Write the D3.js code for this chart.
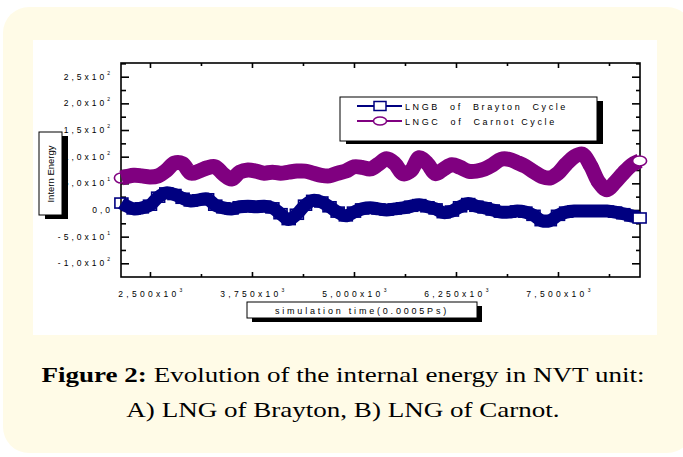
<!DOCTYPE html>
<html lang="en">
<head>
<meta charset="utf-8">
<title>Figure 2 - Internal energy</title>
<script src="https://d3js.org/d3.v7.min.js"></script>
<style>
  body { margin: 0; background: #ffffff; }
  svg text { font-family: "Liberation Sans", Arial, sans-serif; fill: #000; }
</style>
</head>
<body>
<div id="chart"></div>
<script>
// ---- data ----
var timeSteps = [2150, 2300, 2400, 2500, 2600, 2700, 2800, 2900, 3000, 3100,
  3200, 3300, 3400, 3500, 3600, 3700, 3800, 3900, 4000, 4100,
  4200, 4300, 4400, 4500, 4600, 4700, 4800, 4900, 5000, 5100,
  5200, 5300, 5400, 5500, 5600, 5700, 5800, 5900, 6000, 6100,
  6200, 6300, 6400, 6500, 6600, 6700, 6800, 6900, 7000, 7100,
  7200, 7300, 7400, 7500, 7600, 7700, 7800, 7900, 8000, 8100,
  8200, 8300, 8400, 8500];

var braytonValues = [13, 2, 4, 9, 24, 32, 29, 22, 17, 19,
  21, 9, 4, 2, 6, 7, 6, 7, 4, -7,
  -18, -8, 9, 18, 15, 6, -4, -11, -4, 2,
  4, 2, 0, 2, 4, 7, 10, 6, 2, -5,
  -2, 6, 12, 7, 4, 0, -4, -4, -2, -4,
  -10, -20, -20, -10, -4, -2, -2, -2, -2, -2,
  -4, -7, -11, -15];

var carnotValues = [60, 65, 64, 62, 64, 74, 88, 87, 69, 73,
  79, 81, 67, 58, 71, 75, 73, 69, 71, 69,
  71, 73, 73, 69, 65, 64, 69, 73, 81, 80,
  77, 86, 96, 87, 68, 74, 98, 87, 68, 77,
  85, 80, 73, 73, 77, 85, 95, 95, 89, 82,
  72, 63, 60, 69, 86, 100, 105, 83, 52, 38,
  52, 69, 84, 92];

var seriesNames = ["LNGB  of  Brayton  Cycle", "LNGC  of  Carnot Cycle"];

var xTickValues = [2500, 3750, 5000, 6250, 7500];
var xTickLabels = ["2,500x10", "3,750x10", "5,000x10", "6,250x10", "7,500x10"];
var xTickExp = ["3", "3", "3", "3", "3"];

var yTickValues = [250, 200, 150, 100, 50, 0, -50, -100];
var yTickLabels = ["2,5x10", "2,0x10", "1,5x10", "1,0x10", "5,0x10", "0,0", "-5,0x10", "-1,0x10"];
var yTickExp = ["2", "2", "2", "2", "1", "", "1", "2"];

var xTitle = "simulation time(0.0005Ps)";
var yTitle = "Intern Energy";

// ---- sizes ----
var width = 683, height = 457;
var plotLeft = 121, plotRight = 640, plotTop = 63, plotBottom = 277;
var blue = "#000080", purple = "#800080";

var svg = d3.select("#chart").append("svg")
  .attr("width", width)
  .attr("height", height);

// cream card and white panel
svg.append("rect")
  .attr("x", 3).attr("y", 7)
  .attr("width", 690).attr("height", 446)
  .attr("rx", 26).attr("ry", 26)
  .style("fill", "#fffbe7");
svg.append("rect")
  .attr("x", 33).attr("y", 40)
  .attr("width", 624).attr("height", 295)
  .style("fill", "#ffffff");

var x = d3.scaleLinear().domain([2145, 8505]).range([plotLeft, plotRight]);
var y = d3.scaleLinear().domain([-125.7, 275.7]).range([plotBottom, plotTop]);

// ticks (inward on all four sides)
var xMinor = d3.range(1875, 8500, 625).filter(function(d) { return xTickValues.indexOf(d) < 0 && d > 2145; });
var yMinor = d3.range(-125, 276, 25).filter(function(d) { return yTickValues.indexOf(d) < 0 && d > -125; });

svg.append("g").attr("transform", "translate(0," + plotBottom + ")")
  .call(d3.axisTop(x).tickValues(xTickValues).tickSize(5).tickFormat(""));
svg.append("g").attr("transform", "translate(0," + plotBottom + ")")
  .call(d3.axisTop(x).tickValues(xMinor).tickSize(3).tickFormat(""));
svg.append("g").attr("transform", "translate(0," + plotTop + ")")
  .call(d3.axisBottom(x).tickValues(xTickValues).tickSize(5).tickFormat(""));
svg.append("g").attr("transform", "translate(0," + plotTop + ")")
  .call(d3.axisBottom(x).tickValues(xMinor).tickSize(3).tickFormat(""));
svg.append("g").attr("transform", "translate(" + plotLeft + ",0)")
  .call(d3.axisRight(y).tickValues(yTickValues).tickSize(8).tickFormat(""));
svg.append("g").attr("transform", "translate(" + plotLeft + ",0)")
  .call(d3.axisRight(y).tickValues(yMinor).tickSize(5).tickFormat(""));
svg.append("g").attr("transform", "translate(" + plotRight + ",0)")
  .call(d3.axisLeft(y).tickValues(yTickValues).tickSize(8).tickFormat(""));
svg.append("g").attr("transform", "translate(" + plotRight + ",0)")
  .call(d3.axisLeft(y).tickValues(yMinor).tickSize(4).tickFormat(""));
svg.selectAll(".domain").remove();
svg.selectAll(".tick line").style("stroke", "#000").style("stroke-width", 1.6);

// frame
svg.append("rect")
  .attr("x", plotLeft).attr("y", plotTop)
  .attr("width", plotRight - plotLeft).attr("height", plotBottom - plotTop)
  .style("fill", "none").style("stroke", "#000").style("stroke-width", 1.6);

// tick labels
var xl = svg.append("g").selectAll("text")
  .data(xTickValues)
  .enter().append("text")
  .attr("x", function(d) { return x(d) + 2; })
  .attr("y", 297)
  .attr("text-anchor", "middle")
  .style("font-size", "8.5px")
  .style("letter-spacing", "3.3px");
xl.append("tspan").text(function(d, i) { return xTickLabels[i]; });
xl.append("tspan").attr("dy", -5).style("font-size", "5px").text(function(d, i) { return xTickExp[i]; });

var yl = svg.append("g").selectAll("text")
  .data(yTickValues)
  .enter().append("text")
  .attr("x", 113)
  .attr("y", function(d) { return y(d) + 3; })
  .attr("text-anchor", "end")
  .style("font-size", "8.5px")
  .style("letter-spacing", "3px");
yl.append("tspan").text(function(d, i) { return yTickLabels[i]; });
yl.append("tspan").attr("dy", -5).style("font-size", "5px").text(function(d, i) { return yTickExp[i]; });

// series
var line = d3.line()
  .x(function(d, i) { return x(timeSteps[i]); })
  .y(function(d) { return y(d); })
  .curve(d3.curveCatmullRom);

function drawSeries(values, color, thick, shape) {
  svg.append("path")
    .datum(values)
    .attr("d", line)
    .style("fill", "none")
    .style("stroke", color)
    .style("stroke-width", thick)
    .style("stroke-linejoin", "round")
    .style("stroke-linecap", "butt");
  var g = svg.append("g");
  values.forEach(function(v, i) {
    var last = i == values.length - 1;
    var cx = x(timeSteps[i]), cy = y(v);
    var m;
    if (shape == "square") {
      m = g.append("rect").attr("x", cx - 6.5).attr("y", cy - 5).attr("width", 13).attr("height", 10);
    } else {
      m = g.append("ellipse").attr("cx", cx).attr("cy", cy).attr("rx", 7).attr("ry", 5);
    }
    m.style("fill", last ? "#fff" : "none").style("stroke", color).style("stroke-width", 1.6);
  });
}
drawSeries(braytonValues, blue, 13, "square");
drawSeries(carnotValues, purple, 15, "ellipse");

// legend box
svg.append("rect").attr("x", 346).attr("y", 101).attr("width", 257).attr("height", 43).style("fill", "#000");
svg.append("rect").attr("x", 340).attr("y", 97).attr("width", 257).attr("height", 44)
  .style("fill", "#fff").style("stroke", "#000").style("stroke-width", 1);

var legendColors = [blue, purple];
seriesNames.forEach(function(name, i) {
  var ly = 106 + i * 15;
  svg.append("line").attr("x1", 357).attr("x2", 402).attr("y1", ly).attr("y2", ly)
    .style("stroke", legendColors[i]).style("stroke-width", 2.2);
  if (i == 0) {
    svg.append("rect").attr("x", 374).attr("y", ly - 4.5).attr("width", 12).attr("height", 9)
      .style("fill", "#fff").style("stroke", blue).style("stroke-width", 1.5);
  } else {
    svg.append("ellipse").attr("cx", 380).attr("cy", ly).attr("rx", 6.5).attr("ry", 4)
      .style("fill", "#fff").style("stroke", purple).style("stroke-width", 1.5);
  }
  svg.append("text").attr("x", 405).attr("y", ly + 3.5)
    .style("font-size", "9px").style("letter-spacing", "2.6px")
    .style("white-space", "pre")
    .text(name);
});

// x title box
svg.append("rect").attr("x", 252).attr("y", 306).attr("width", 230).attr("height", 16).style("fill", "#000");
svg.append("rect").attr("x", 247).attr("y", 302).attr("width", 230).attr("height", 16)
  .style("fill", "#fff").style("stroke", "#000").style("stroke-width", 1);
svg.append("text").attr("x", 362).attr("y", 314)
  .attr("text-anchor", "middle")
  .style("font-size", "9px").style("letter-spacing", "2.8px")
  .text(xTitle);

// y title box
svg.append("rect").attr("x", 45).attr("y", 136).attr("width", 23).attr("height", 83).style("fill", "#000");
svg.append("rect").attr("x", 39).attr("y", 132).attr("width", 23).attr("height", 83)
  .style("fill", "#fff").style("stroke", "#000").style("stroke-width", 1);
svg.append("text")
  .attr("transform", "translate(54,174) rotate(-90)")
  .attr("text-anchor", "middle")
  .style("font-size", "9.5px")
  .text(yTitle);

// caption
var cap1 = svg.append("text").attr("x", 343).attr("y", 382).attr("text-anchor", "middle")
  .style("font-family", "'Liberation Serif', serif").style("font-size", "22px");
cap1.append("tspan").style("font-weight", "bold").text("Figure 2:");
cap1.append("tspan").text(" Evolution of the internal energy in NVT unit:");
var cap2 = svg.append("text").attr("x", 343).attr("y", 417).attr("text-anchor", "middle")
  .style("font-family", "'Liberation Serif', serif").style("font-size", "22px")
  .text("A) LNG of Brayton, B) LNG of Carnot.");
// fit caption width to the figure
var w1 = cap1.node().getComputedTextLength();
cap1.attr("textLength", 603).attr("lengthAdjust", "spacingAndGlyphs");
cap2.attr("textLength", cap2.node().getComputedTextLength() * 603 / w1).attr("lengthAdjust", "spacingAndGlyphs");
</script>
</body>
</html>
